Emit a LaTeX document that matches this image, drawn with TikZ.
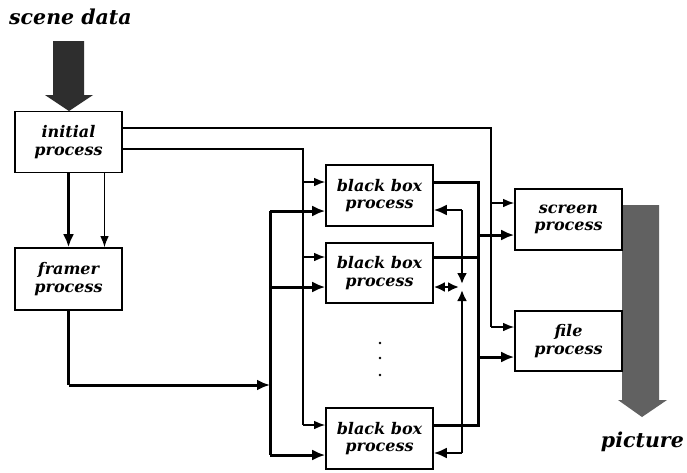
\documentclass[tikz,border=0pt]{standalone}
\usepackage{fontspec}
\setmainfont{DejaVu Serif}
\usetikzlibrary{arrows.meta}
\begin{document}
\begin{tikzpicture}[x=1pt,y=-1pt,
  box/.style={draw,line width=1.6pt,fill=white,minimum width=107pt,minimum height=61pt,inner sep=0pt,align=center,
    font=\bfseries\itshape\fontsize{16}{17.5}\selectfont},
  lbl/.style={font=\bfseries\itshape\fontsize{20.5}{22}\selectfont,inner sep=0pt},
  thinl/.style={line width=1.3pt},
  thickl/.style={line width=3pt},
  midl/.style={line width=2.4pt},
  ta/.style={-{Latex[length=11pt,width=8.5pt]}},
  tA/.style={-{Latex[length=13pt,width=11pt]}},
  fbA/.style={-{Latex[length=11pt,width=10pt]}},
  fbAA/.style={{Latex[length=11pt,width=10pt]}-{Latex[length=11pt,width=10pt]}}
]
\useasboundingbox (0,0) rectangle (687,472);
\fill[white] (0,0) rectangle (687,472);

% big arrows
\fill[black!82] (53,41) -- (84,41) -- (84,95) -- (93,95) -- (69,111) -- (45,95) -- (53,95) -- cycle;
\fill[black!62] (622,205) -- (659,205) -- (659,400) -- (667,400) -- (642,417) -- (618,400) -- (622,400) -- cycle;

% boxes
\node[box] (init) at (68.5,142) {initial\\process};
\node[box,minimum height=62pt] (framer) at (68.5,279) {framer\\process};
\node[box] (bb1) at (379.5,195.5) {black box\\process};
\node[box,minimum height=60pt] (bb2) at (379.5,273) {black box\\process};
\node[box] (bb3) at (379.5,438.5) {black box\\process};
\node[box] (screen) at (568.5,219.5) {screen\\process};
\node[box,minimum height=60pt] (file) at (568.5,341) {file\\process};

\node[lbl,anchor=base west] (scene) at (9,24.5) {scene data};
\node[lbl,anchor=base east] (pic) at (684,447) {picture};

% dots
\fill (380,343) circle (1.4) (380,358) circle (1.4) (380,375) circle (1.4);

% coordinates
\coordinate (t1) at (491,128);
\coordinate (t2) at (303,149);
\coordinate (fcorner) at (68.5,385);
\coordinate (busT) at (270,211);
\coordinate (busM) at (270,287);
\coordinate (busB) at (270,455);
\coordinate (rT) at (478,182);
\coordinate (rB) at (478,425);
\coordinate (fbT) at (462,210);
\coordinate (fbM) at (462,287);
\coordinate (fbB) at (462,453);

% initial -> framer
\draw[thickl,tA] (init.south) -- (framer.north);
\draw[thinl,ta] ([xshift=36pt]init.south) -- ([xshift=36pt]framer.north);

% top thin line to screen / file
\draw[thinl] (init.east |- t1) -- (t1) -- (t1 |- 0,327);
\draw[thinl,ta] (t1 |- 0,327) -- (file.west |- 0,327);
\draw[thinl,ta] (t1 |- 0,203) -- (screen.west |- 0,203);

% second thin line to black boxes
\draw[thinl] (init.east |- t2) -- (t2) -- (t2 |- 0,425);
\draw[thinl,ta] (t2 |- 0,182) -- (bb1.west |- 0,182);
\draw[thinl,ta] (t2 |- 0,257) -- (bb2.west |- 0,257);
\draw[thinl,ta] (t2 |- 0,425) -- (bb3.west |- 0,425);

% framer -> thick bus
\draw[thickl] (framer.south) -- (fcorner);
\draw[thickl,tA] (fcorner) -- (busT |- fcorner);
\draw[thickl] (busT) -- (busB);
\draw[thickl,tA] (busT) -- (bb1.west |- busT);
\draw[thickl,tA] (busM) -- (bb2.west |- busM);
\draw[thickl,tA] (busB) -- (bb3.west |- busB);

% outputs of black boxes
\draw[thickl] (bb1.east |- rT) -- (rT) -- (rB) -- (bb3.east |- rB);
\draw[thickl] (bb2.east |- 0,257) -- (rT |- 0,257);
\draw[thickl,tA] (rT |- 0,235) -- (screen.west |- 0,235);
\draw[thickl,tA] (rT |- 0,357) -- (file.west |- 0,357);

% feedback
\draw[midl,tA] (fbT) -- (bb1.east |- fbT);
\draw[midl,tA] (fbB) -- (bb3.east |- fbB);
\draw[midl,fbA] (fbT) -- (462,284);
\draw[midl,fbA] (fbB) -- (462,290);
\draw[midl,fbAA] (bb2.east |- fbM) -- (459,287);
\end{tikzpicture}
\end{document}
